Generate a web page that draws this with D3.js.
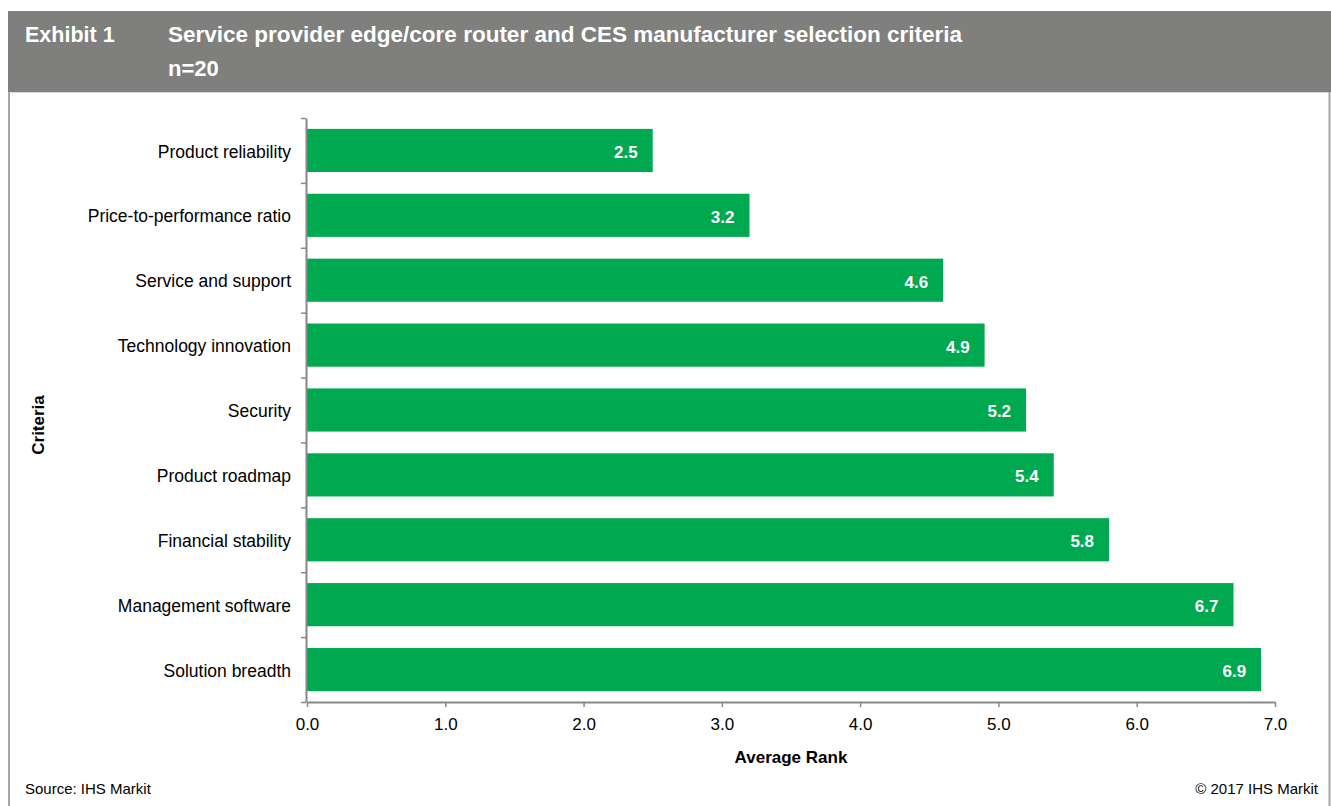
<!DOCTYPE html>
<html>
<head>
<meta charset="utf-8">
<script src="https://cdn.jsdelivr.net/npm/d3@7"></script>
<style>
  html, body { margin: 0; padding: 0; background: #fff; }
  svg { display: block; font-family: "Liberation Sans", Arial, sans-serif; }
</style>
</head>
<body>
<svg id="chart" width="1331" height="806"></svg>
<script>
// Survey results: average rank of each manufacturer selection criterion
const categories = [
  "Product reliability",
  "Price-to-performance ratio",
  "Service and support",
  "Technology innovation",
  "Security",
  "Product roadmap",
  "Financial stability",
  "Management software",
  "Solution breadth"
];
const values = [2.5, 3.2, 4.6, 4.9, 5.2, 5.4, 5.8, 6.7, 6.9];
const xTicks = [0, 1, 2, 3, 4, 5, 6, 7];

const exhibitLabel = "Exhibit 1";
const titleLines = ["Service provider edge/core router and CES manufacturer selection criteria", "n=20"];
const xTitle = "Average Rank";
const yTitle = "Criteria";
const sourceText = "Source: IHS Markit";
const copyrightText = "\u00A9 2017 IHS Markit";

const W = 1331, H = 806;
const plot = { left: 307, right: 1275, top: 118, bottom: 702 };
const axisColor = "#888888";
const barColor = "#00a94f";

const svg = d3.select("#chart");

// Frame: header band and side borders
svg.append("rect").attr("x", 8).attr("y", 11).attr("width", W - 8).attr("height", 81).attr("fill", "#7f807e");
svg.append("line").attr("x1", 8).attr("x2", W).attr("y1", 92.5).attr("y2", 92.5).attr("stroke", "#d8d8d8").attr("stroke-width", 1);
svg.append("line").attr("x1", 9).attr("x2", 9).attr("y1", 92).attr("y2", H).attr("stroke", "#a6a6a6").attr("stroke-width", 2);
svg.append("line").attr("x1", 1329.5).attr("x2", 1329.5).attr("y1", 92).attr("y2", H).attr("stroke", "#a6a6a6").attr("stroke-width", 2);

svg.append("text").attr("x", 25).attr("y", 42).attr("fill", "#fff").attr("font-size", 21.5).attr("font-weight", "bold").text(exhibitLabel);
svg.append("text").attr("x", 168).attr("y", 42).attr("fill", "#fff").attr("font-size", 22.5).attr("font-weight", "bold").text(titleLines[0]);
svg.append("text").attr("x", 168).attr("y", 76).attr("fill", "#fff").attr("font-size", 22).attr("font-weight", "bold").text(titleLines[1]);

// Scales
const x = d3.scaleLinear().domain([0, 7]).range([plot.left, plot.right]);
const y = d3.scaleBand().domain(categories).range([plot.top, plot.bottom]).paddingInner(0.335).paddingOuter(0.1675);
const yEdges = d3.scaleLinear().domain([0, categories.length]).range([plot.top, plot.bottom]);

// Bars
svg.append("g").selectAll("rect").data(values).join("rect")
  .attr("x", x(0))
  .attr("y", (d, i) => y(categories[i]))
  .attr("width", d => x(d) - x(0))
  .attr("height", y.bandwidth())
  .attr("fill", barColor);

// Value labels inside bar ends
svg.append("g").selectAll("text").data(values).join("text")
  .attr("x", d => x(d) - 15)
  .attr("y", (d, i) => y(categories[i]) + y.bandwidth() / 2 + 1.5)
  .attr("dy", "0.35em")
  .attr("text-anchor", "end")
  .attr("fill", "#fff")
  .attr("font-size", 17)
  .attr("font-weight", "bold")
  .text(d => d3.format(".1f")(d));

// X axis
const xAxis = svg.append("g").attr("transform", `translate(0,${plot.bottom})`)
  .call(d3.axisBottom(x).tickValues(xTicks).tickFormat(d3.format(".1f")).tickSize(5).tickSizeOuter(0).tickPadding(11));
xAxis.select(".domain").attr("stroke", axisColor).attr("stroke-width", 2);
xAxis.selectAll(".tick line").attr("stroke", axisColor).attr("stroke-width", 1.5);
xAxis.selectAll(".tick text").attr("fill", "#000").attr("font-size", 17).attr("font-family", "Liberation Sans, Arial, sans-serif");

// Y axis: ticks at category boundaries
const yAxis = svg.append("g").attr("transform", `translate(${plot.left - 1},0)`)
  .call(d3.axisLeft(yEdges).tickValues(d3.range(categories.length + 1)).tickFormat("").tickSize(5).tickSizeOuter(0));
yAxis.select(".domain").attr("stroke", axisColor).attr("stroke-width", 2);
yAxis.selectAll(".tick line").attr("stroke", axisColor).attr("stroke-width", 1.5);

// Category labels
const yLabels = svg.append("g").attr("transform", `translate(${plot.left - 16},1.5)`)
  .call(d3.axisLeft(y).tickSize(0).tickPadding(0));
yLabels.select(".domain").remove();
yLabels.selectAll(".tick text").attr("fill", "#000").attr("font-size", 17.5).attr("font-family", "Liberation Sans, Arial, sans-serif");

// Axis titles
svg.append("text").attr("x", (plot.left + plot.right) / 2).attr("y", 763).attr("text-anchor", "middle")
  .attr("font-size", 17).attr("font-weight", "bold").attr("fill", "#000").text(xTitle);
svg.append("text").attr("transform", "translate(44,425) rotate(-90)").attr("text-anchor", "middle")
  .attr("font-size", 17).attr("font-weight", "bold").attr("fill", "#000").text(yTitle);

// Footer
svg.append("text").attr("x", 25).attr("y", 794).attr("font-size", 15).attr("fill", "#000").text(sourceText);
svg.append("text").attr("x", 1318).attr("y", 794).attr("text-anchor", "end").attr("font-size", 15).attr("fill", "#000").text(copyrightText);
</script>
</body>
</html>
